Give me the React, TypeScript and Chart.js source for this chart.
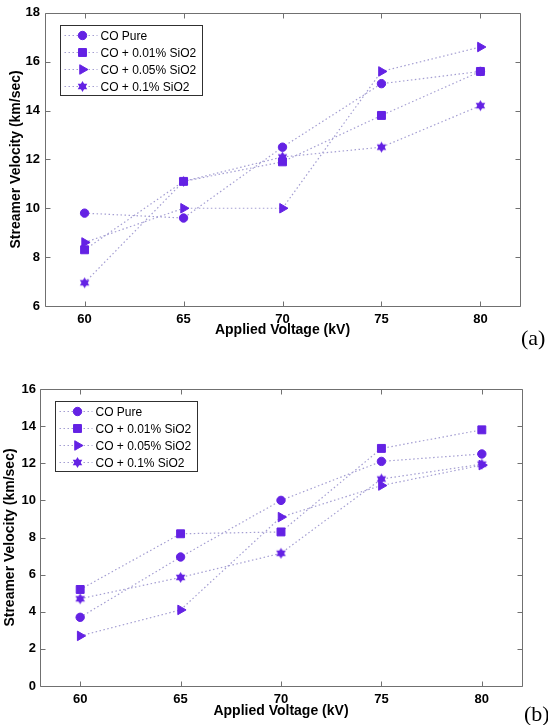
import React, { useEffect, useRef } from "react";
import { Chart, registerables } from "chart.js";
import * as helpers from "chart.js/helpers";

Chart.register(...registerables);

// ---------- data ----------
const VOLTAGE = [60, 65, 70, 75, 80];
const X_TICKS = [60, 65, 70, 75, 80];
const SERIES_LABELS = ["CO Pure", "CO + 0.01% SiO2", "CO + 0.05% SiO2", "CO + 0.1% SiO2"];

// (a)
const A_PURE = [9.8, 9.6, 12.5, 15.1, 15.6];
const A_001 = [8.3, 11.1, 11.9, 13.8, 15.6];
const A_005 = [8.6, 10.0, 10.0, 15.6, 16.6];
const A_01 = [6.95, 11.1, 12.1, 12.5, 14.2];

// (b)
const B_PURE = [3.7, 6.95, 10.0, 12.1, 12.5];
const B_001 = [5.2, 8.2, 8.3, 12.8, 13.8];
const B_005 = [2.7, 4.1, 9.1, 10.8, 11.9];
const B_01 = [4.7, 5.85, 7.15, 11.15, 11.95];

const X_TITLE = "Applied Voltage (kV)";
const Y_TITLE = "Streamer Velocity (km/sec)";

// ---------- styles ----------
const MARKER = "#6422e4";
const LINE = "#a49ed2";
const FONT = "'Liberation Sans', Arial, sans-serif";

function makeHexagram(r: number, color: string) {
  const size = Math.ceil(2 * r + 2);
  const c = document.createElement("canvas");
  c.width = size;
  c.height = size;
  const ctx = c.getContext("2d")!;
  const cx = size / 2;
  const cy = size / 2;
  ctx.fillStyle = color;
  for (let k = 0; k < 2; k++) {
    ctx.beginPath();
    for (let i = 0; i < 3; i++) {
      const ang = -Math.PI / 2 + (k * Math.PI) / 3 + (i * 2 * Math.PI) / 3;
      const x = cx + r * Math.cos(ang);
      const y = cy + r * Math.sin(ang);
      if (i === 0) ctx.moveTo(x, y);
      else ctx.lineTo(x, y);
    }
    ctx.closePath();
    ctx.fill();
  }
  return c;
}

const framePlugin = {
  id: "matlabFrame",
  afterDraw(chart: any) {
    const { ctx, chartArea: a, scales } = chart;
    const L = 5;
    ctx.save();
    ctx.strokeStyle = "#707070";
    ctx.lineWidth = 1;
    const l = Math.round(a.left) + 0.5;
    const r = Math.round(a.right) + 0.5;
    const t = Math.round(a.top) + 0.5;
    const b = Math.round(a.bottom) + 0.5;
    ctx.beginPath();
    ctx.rect(l, t, r - l, b - t);
    scales.x.ticks.forEach((tk: any) => {
      const px = Math.round(scales.x.getPixelForValue(tk.value)) + 0.5;
      ctx.moveTo(px, b);
      ctx.lineTo(px, b - L);
      ctx.moveTo(px, t);
      ctx.lineTo(px, t + L);
    });
    scales.y.ticks.forEach((tk: any) => {
      const py = Math.round(scales.y.getPixelForValue(tk.value)) + 0.5;
      ctx.moveTo(l, py);
      ctx.lineTo(l + L, py);
      ctx.moveTo(r, py);
      ctx.lineTo(r - L, py);
    });
    ctx.stroke();
    ctx.restore();
  },
};

const legendPlugin = {
  id: "boxLegend",
  afterDatasetsDraw(chart: any) {
    const { ctx, chartArea: a } = chart;
    const x0 = Math.round(a.left + 15) + 0.5;
    const y0 = Math.round(a.top + 12) + 0.5;
    const rowH = 17;
    ctx.save();
    ctx.font = `12px ${FONT}`;
    const dsets = chart.data.datasets;
    let maxW = 0;
    dsets.forEach((d: any) => {
      maxW = Math.max(maxW, ctx.measureText(d.label).width);
    });
    const w = Math.round(40 + maxW + 6);
    const h = rowH * dsets.length + 2;
    ctx.fillStyle = "#ffffff";
    ctx.fillRect(x0, y0, w, h);
    ctx.strokeStyle = "#303030";
    ctx.lineWidth = 1;
    ctx.strokeRect(x0, y0, w, h);
    dsets.forEach((d: any, i: number) => {
      const y = y0 + 10 + i * rowH;
      ctx.save();
      ctx.strokeStyle = d.borderColor;
      ctx.lineWidth = d.borderWidth;
      ctx.setLineDash(d.borderDash);
      ctx.beginPath();
      ctx.moveTo(x0 + 4, y);
      ctx.lineTo(x0 + 37, y);
      ctx.stroke();
      ctx.restore();
      ctx.fillStyle = MARKER;
      ctx.strokeStyle = MARKER;
      ctx.lineWidth = 1;
      (helpers as any).drawPoint(
        ctx,
        { pointStyle: d.pointStyle, rotation: d.pointRotation || 0, radius: d.pointRadius, borderWidth: 1 },
        x0 + 22,
        y
      );
      ctx.fillStyle = "#000000";
      ctx.textBaseline = "middle";
      ctx.textAlign = "left";
      ctx.fillText(d.label, x0 + 40, y + 1);
    });
    ctx.restore();
  },
};

function buildConfig(values: number[][], yMin: number, yMax: number, lay: any) {
  const hex = makeHexagram(5.5, MARKER);
  const styles = [
    { pointStyle: "circle", pointRadius: 4.2, pointRotation: 0 },
    { pointStyle: "rect", pointRadius: 5.6, pointRotation: 0 },
    { pointStyle: "triangle", pointRadius: 5.5, pointRotation: 90 },
    { pointStyle: hex, pointRadius: 5.5, pointRotation: 0 },
  ];
  const datasets = values.map((vals, i) => ({
    label: SERIES_LABELS[i],
    data: VOLTAGE.map((v, j) => ({ x: v, y: vals[j] })),
    borderColor: LINE,
    borderWidth: 1.2,
    borderDash: [1.5, 2.5],
    backgroundColor: MARKER,
    pointBackgroundColor: MARKER,
    pointBorderColor: MARKER,
    pointBorderWidth: 1,
    pointStyle: styles[i].pointStyle,
    pointRadius: styles[i].pointRadius,
    pointHoverRadius: styles[i].pointRadius,
    pointRotation: styles[i].pointRotation,
    tension: 0,
    fill: false,
  }));
  return {
    type: "line",
    data: { datasets },
    options: {
      animation: false,
      responsive: false,
      events: [],
      layout: { padding: lay.padding },
      plugins: { legend: { display: false }, tooltip: { enabled: false }, title: { display: false } },
      scales: {
        x: {
          type: "linear",
          min: 58,
          max: 82,
          afterBuildTicks: (s: any) => {
            s.ticks = X_TICKS.map((v) => ({ value: v }));
          },
          afterFit: (s: any) => {
            s.height = lay.xHeight;
          },
          grid: { display: false, drawTicks: false },
          border: { display: false },
          ticks: {
            padding: 6,
            color: "#000",
            font: { family: FONT, size: 13, weight: "bold" },
            maxRotation: 0,
            autoSkip: false,
          },
          title: {
            display: true,
            text: X_TITLE,
            color: "#000",
            font: { family: FONT, size: 14, weight: "bold" },
            padding: { top: 0, bottom: 4 },
          },
        },
        y: {
          type: "linear",
          min: yMin,
          max: yMax,
          afterFit: (s: any) => {
            s.width = lay.yWidth;
          },
          grid: { display: false, drawTicks: false },
          border: { display: false },
          ticks: {
            stepSize: 2,
            padding: lay.yTickPad,
            color: "#000",
            font: { family: FONT, size: 13, weight: "bold" },
          },
          title: {
            display: true,
            text: Y_TITLE,
            color: "#000",
            font: { family: FONT, size: 14, weight: "bold" },
            padding: { top: lay.yTitlePad, bottom: 0 },
          },
        },
      },
    },
    plugins: [framePlugin, legendPlugin],
  } as any;
}

function Panel(props: { values: number[][]; yMin: number; yMax: number; lay: any; top: number; height: number }) {
  const ref = useRef<HTMLCanvasElement | null>(null);
  useEffect(() => {
    if (!ref.current) return;
    const chart = new Chart(ref.current, buildConfig(props.values, props.yMin, props.yMax, props.lay));
    return () => chart.destroy();
  }, []);
  return (
    <canvas
      ref={ref}
      width={548}
      height={props.height}
      style={{ position: "absolute", left: 0, top: props.top, width: 548, height: props.height }}
    />
  );
}

export default function App() {
  const labelStyle: React.CSSProperties = {
    position: "absolute",
    fontFamily: "'Liberation Serif', 'Times New Roman', serif",
    fontSize: 22,
    lineHeight: "22px",
    color: "#000",
    whiteSpace: "nowrap",
  };
  return (
    <div
      style={{
        position: "absolute",
        left: 0,
        top: 0,
        width: 548,
        height: 725,
        overflow: "hidden",
        background: "#fff",
      }}
    >
      <Panel
        values={[A_PURE, A_001, A_005, A_01]}
        yMin={6}
        yMax={18}
        top={0}
        height={360}
        lay={{
          padding: { top: 12, right: 28, bottom: 17, left: 0 },
          xHeight: 37,
          yWidth: 45,
          yTitlePad: 8,
          yTickPad: 5,
        }}
      />
      <Panel
        values={[B_PURE, B_001, B_005, B_01]}
        yMin={0}
        yMax={16}
        top={360}
        height={365}
        lay={{
          padding: { top: 29, right: 26, bottom: 1, left: 0 },
          xHeight: 38,
          yWidth: 40,
          yTitlePad: 2,
          yTickPad: 4,
        }}
      />
      <div style={{ ...labelStyle, left: 521, top: 327 }}>(a)</div>
      <div style={{ ...labelStyle, left: 524, top: 703 }}>(b)</div>
    </div>
  );
}
